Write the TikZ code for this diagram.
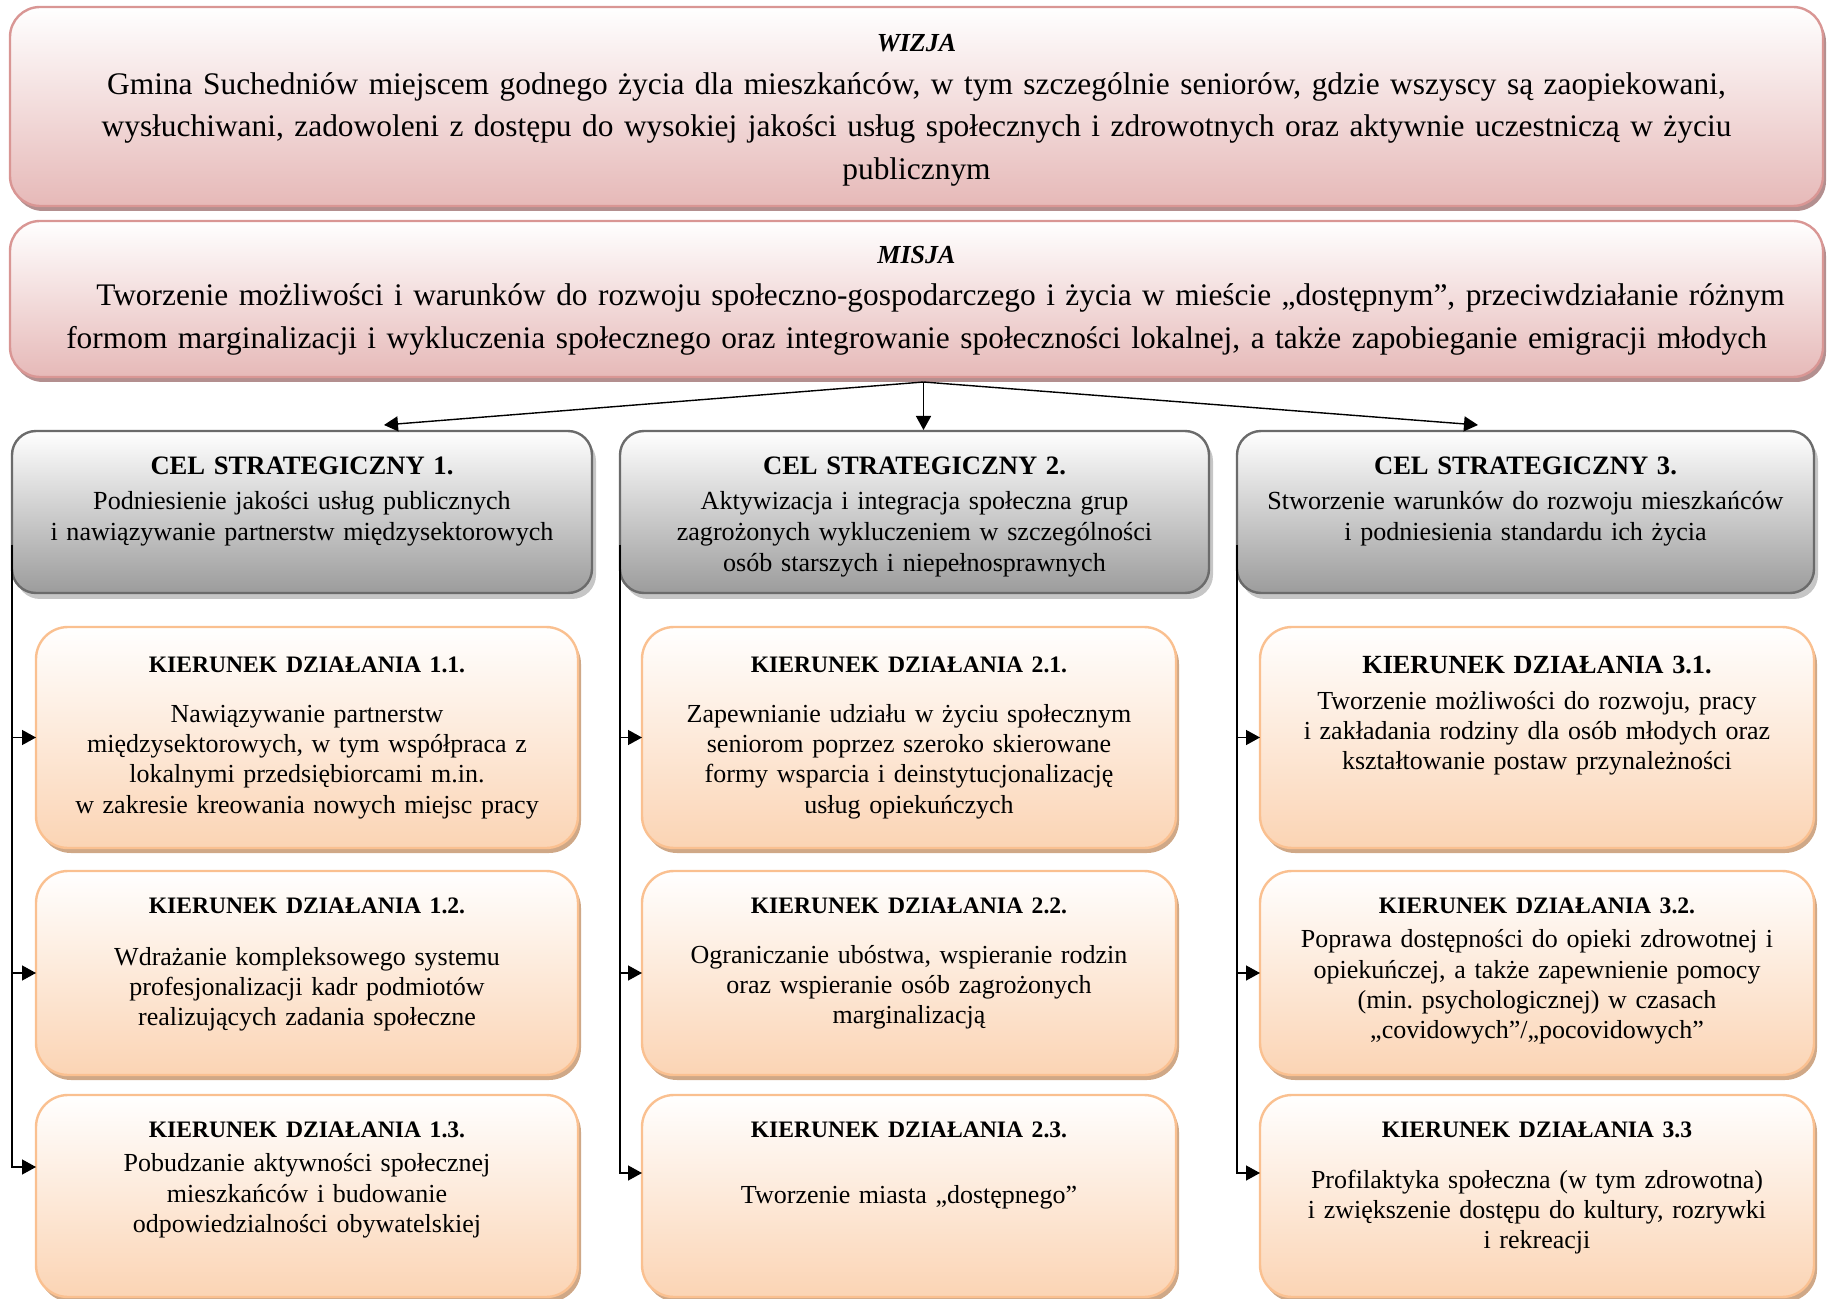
\documentclass[tikz,border=0pt]{standalone}
\usepackage{fontspec}
\setmainfont{Liberation Serif}
\usepackage{xcolor}
\usepackage{tikz}
\usetikzlibrary{arrows.meta,positioning,shadows}
\frenchspacing

\definecolor{visfill}{HTML}{E6B9B8}
\definecolor{visline}{HTML}{D99694}
\definecolor{visshadow}{HTML}{B38F8F}
\definecolor{celfill}{HTML}{9C9C9C}
\definecolor{celline}{HTML}{6B6B6B}
\definecolor{celshadow}{HTML}{C6C6C6}
\definecolor{kdfill}{HTML}{FBD4B4}
\definecolor{kdline}{HTML}{FAC090}
\definecolor{kdshadow}{HTML}{CFA887}

\begin{document}
\begin{tikzpicture}[
  node distance=7.5pt and 14pt,
  visbox/.style={draw=visline, line width=1.2pt, rounded corners=15pt,
                 top color=white, bottom color=visfill, outer sep=0pt,
                 general shadow={fill=visshadow, shadow xshift=1.5pt, shadow yshift=-2.5pt},
                 minimum width=906.5pt},
  celbox/.style={draw=celline, line width=1.2pt, rounded corners=12pt,
                 top color=white, bottom color=celfill, outer sep=0pt,
                 general shadow={fill=celshadow, shadow xshift=2pt, shadow yshift=-3pt},
                 minimum height=81pt},
  kdbox/.style={draw=kdline, line width=1.2pt, rounded corners=16pt,
                top color=white, bottom color=kdfill, outer sep=0pt,
                general shadow={fill=kdshadow, shadow xshift=1.5pt, shadow yshift=-2.5pt}},
  vistext/.style={anchor=base, text width=900pt, align=center, inner sep=0pt,
                  font=\fontsize{15.7}{21.25}\selectfont},
  celtext/.style={anchor=base, text width=282pt, align=center, inner sep=0pt,
                  font=\fontsize{13.05}{15.5}\selectfont},
  kdtext/.style={anchor=base, text width=266pt, align=center, inner sep=0pt,
                 font=\fontsize{13}{15.2}\selectfont},
  arr/.style={-{Triangle[length=7pt,width=7.5pt]}, line width=0.7pt}
]
\useasboundingbox (0,0) rectangle (913.5pt,-649.5pt);

% wizja i misja
\node[visbox, minimum height=99.5pt, anchor=north west] (wizja) at (5pt,-3.5pt) {};
\node[visbox, minimum height=78pt, below=of wizja] (misja) {};
\node[vistext] (wizjat) at ([yshift=-22.5pt]wizja.north) {{\bfseries\itshape\fontsize{13}{15}\selectfont WIZJA}\\
  Gmina Suchedniów miejscem godnego życia dla mieszkańców, w tym szczególnie seniorów, gdzie wszyscy są zaopiekowani,\\
  wysłuchiwani, zadowoleni z dostępu do wysokiej jakości usług społecznych i zdrowotnych oraz aktywnie uczestniczą w życiu\\
  publicznym};
\node[vistext] (misjat) at ([yshift=-21.25pt]misja.north) {{\bfseries\itshape\fontsize{13}{15}\selectfont MISJA}\\
  \hspace*{24pt}Tworzenie możliwości i warunków do rozwoju społeczno-gospodarczego i życia w mieście „dostępnym”, przeciwdziałanie różnym\\
  formom marginalizacji i wykluczenia społecznego oraz integrowanie społeczności lokalnej, a także zapobieganie emigracji młodych};

% cele strategiczne
\node[celbox, minimum width=290pt, below=27pt of misja.south west, anchor=north west, xshift=1pt] (cel1) {};
\node[celbox, minimum width=294.5pt, right=of cel1] (cel2) {};
\node[celbox, minimum width=288.5pt, right=of cel2] (cel3) {};
\node[celtext] (cel1t) at ([yshift=-22pt]cel1.north) {{\fontsize{13.3}{15.5}\selectfont\bfseries CEL STRATEGICZNY 1.}\\[2pt]
  Podniesienie jakości usług publicznych\\ i nawiązywanie partnerstw międzysektorowych};
\node[celtext] (cel2t) at ([yshift=-22pt]cel2.north) {{\fontsize{13.3}{15.5}\selectfont\bfseries CEL STRATEGICZNY 2.}\\[2pt]
  Aktywizacja i integracja społeczna grup\\ zagrożonych wykluczeniem w szczególności\\ osób starszych i niepełnosprawnych};
\node[celtext] (cel3t) at ([yshift=-22pt]cel3.north) {{\fontsize{13.3}{15.5}\selectfont\bfseries CEL STRATEGICZNY 3.}\\[2pt]
  Stworzenie warunków do rozwoju mieszkańców\\ i podniesienia standardu ich życia};

% kierunki dzialania - kolumna 1
\node[kdbox, minimum width=271pt, minimum height=110.5pt, below=17pt of cel1.south west, anchor=north west, xshift=12pt] (kd11) {};
\node[kdbox, minimum width=271pt, minimum height=102pt, below=11.5pt of kd11] (kd12) {};
\node[kdbox, minimum width=271pt, minimum height=101pt, below=10pt of kd12] (kd13) {};
% kolumna 2
\node[kdbox, minimum width=267pt, minimum height=110.5pt, below=17pt of cel2.south west, anchor=north west, xshift=11pt] (kd21) {};
\node[kdbox, minimum width=267pt, minimum height=102pt, below=11.5pt of kd21] (kd22) {};
\node[kdbox, minimum width=267pt, minimum height=101pt, below=10pt of kd22] (kd23) {};
% kolumna 3
\node[kdbox, minimum width=277pt, minimum height=110.5pt, below=17pt of cel3.south west, anchor=north west, xshift=11.5pt] (kd31) {};
\node[kdbox, minimum width=277pt, minimum height=102pt, below=11.5pt of kd31] (kd32) {};
\node[kdbox, minimum width=277pt, minimum height=101pt, below=10pt of kd32] (kd33) {};

\node[kdtext] (kd11t) at ([yshift=-22.5pt]kd11.north) {{\bfseries\fontsize{11.8}{15}\selectfont KIERUNEK DZIAŁANIA 1.1.}\\[9.8pt]
  Nawiązywanie partnerstw\\ międzysektorowych, w tym współpraca z\\ lokalnymi przedsiębiorcami m.in.\\ w zakresie kreowania nowych miejsc pracy};
\node[kdtext] (kd12t) at ([yshift=-21pt]kd12.north) {{\bfseries\fontsize{11.8}{15}\selectfont KIERUNEK DZIAŁANIA 1.2.}\\[10.8pt]
  Wdrażanie kompleksowego systemu\\ profesjonalizacji kadr podmiotów\\ realizujących zadania społeczne};
\node[kdtext] (kd13t) at ([yshift=-21pt]kd13.north) {{\bfseries\fontsize{11.8}{15}\selectfont KIERUNEK DZIAŁANIA 1.3.}\\[2.1pt]
  Pobudzanie aktywności społecznej\\ mieszkańców i budowanie\\ odpowiedzialności obywatelskiej};
\node[kdtext] (kd21t) at ([yshift=-22.5pt]kd21.north) {{\bfseries\fontsize{11.8}{15}\selectfont KIERUNEK DZIAŁANIA 2.1.}\\[9.8pt]
  Zapewnianie udziału w życiu społecznym\\ seniorom poprzez szeroko skierowane\\ formy wsparcia i deinstytucjonalizację\\ usług opiekuńczych};
\node[kdtext] (kd22t) at ([yshift=-21pt]kd22.north) {{\bfseries\fontsize{11.8}{15}\selectfont KIERUNEK DZIAŁANIA 2.2.}\\[9.8pt]
  Ograniczanie ubóstwa, wspieranie rodzin\\ oraz wspieranie osób zagrożonych\\ marginalizacją};
\node[kdtext] (kd23t) at ([yshift=-21pt]kd23.north) {{\bfseries\fontsize{11.8}{15}\selectfont KIERUNEK DZIAŁANIA 2.3.}\\[17.8pt]
  Tworzenie miasta „dostępnego”};
\node[kdtext] (kd31t) at ([yshift=-23pt]kd31.north) {{\bfseries\fontsize{13.1}{15}\selectfont KIERUNEK DZIAŁANIA 3.1.}\\[2.8pt]
  Tworzenie możliwości do rozwoju, pracy\\ i zakładania rodziny dla osób młodych oraz\\ kształtowanie postaw przynależności};
\node[kdtext] (kd32t) at ([yshift=-21pt]kd32.north) {{\bfseries\fontsize{11.8}{15}\selectfont KIERUNEK DZIAŁANIA 3.2.}\\[2.1pt]
  Poprawa dostępności do opieki zdrowotnej i\\ opiekuńczej, a także zapewnienie pomocy\\ (min. psychologicznej) w czasach\\ „covidowych”/„pocovidowych”};
\node[kdtext] (kd33t) at ([yshift=-21pt]kd33.north) {{\bfseries\fontsize{11.8}{15}\selectfont KIERUNEK DZIAŁANIA 3.3}\\[10.3pt]
  Profilaktyka społeczna (w tym zdrowotna)\\ i zwiększenie dostępu do kultury, rozrywki\\ i rekreacji};

% strzalki
\coordinate (hub) at ([xshift=3.5pt,yshift=-2.5pt]misja.south);
\draw[arr] (hub) -- ([xshift=41pt,yshift=3pt]cel1.north);
\draw[arr] (hub) -- ([xshift=4.5pt,yshift=0.5pt]cel2.north);
\draw[arr] (hub) -- ([xshift=-23.75pt,yshift=3pt]cel3.north);
\draw[arr] ([yshift=24pt]cel1.south west) |- (kd11.west);
\draw[arr] ([yshift=24pt]cel1.south west) |- (kd12.west);
\draw[arr] ([yshift=24pt]cel1.south west) |- ([yshift=14.5pt]kd13.west);
\draw[arr] ([yshift=24pt]cel2.south west) |- (kd21.west);
\draw[arr] ([yshift=24pt]cel2.south west) |- (kd22.west);
\draw[arr] ([yshift=24pt]cel2.south west) |- ([yshift=11.5pt]kd23.west);
\draw[arr] ([yshift=24pt]cel3.south west) |- (kd31.west);
\draw[arr] ([yshift=24pt]cel3.south west) |- (kd32.west);
\draw[arr] ([yshift=24pt]cel3.south west) |- ([yshift=11.5pt]kd33.west);
\end{tikzpicture}
\end{document}
